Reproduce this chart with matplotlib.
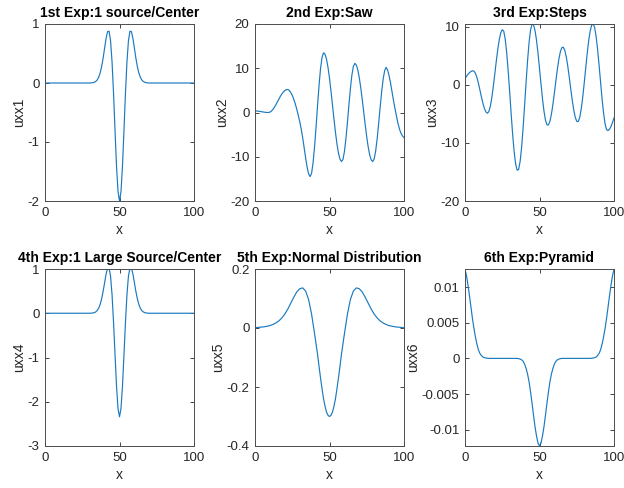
"""Second-derivative profiles uxx for six initial-condition experiments."""

import matplotlib.pyplot as plt
import numpy as np
from matplotlib.ticker import FuncFormatter

plt.rcParams["font.family"] = ["Liberation Sans", "DejaVu Sans"]

# --- experiment 1 / 4: single source at the centre ---------------------------
x_src = [0, 10, 20] + list(range(30, 71)) + [80, 90, 100]
uxx1 = [0, 0, 0,
        0.000, 0.002, 0.005, 0.012, 0.025, 0.051, 0.096, 0.169, 0.277, 0.421,
        0.590, 0.757, 0.872, 0.877, 0.716, 0.358, -0.175, -0.805, -1.407, -1.841,
        -2.000,
        -1.841, -1.407, -0.805, -0.175, 0.358, 0.716, 0.877, 0.872, 0.757, 0.590,
        0.421, 0.277, 0.169, 0.096, 0.051, 0.025, 0.012, 0.005, 0.002, 0.000,
        0, 0, 0]
uxx4 = [0, 0, 0,
        0.000, 0.002, 0.006, 0.014, 0.029, 0.060, 0.112, 0.198, 0.324, 0.493,
        0.690, 0.886, 1.020, 1.026, 0.838, 0.419, -0.205, -0.942, -1.646, -2.154,
        -2.340,
        -2.154, -1.646, -0.942, -0.205, 0.419, 0.838, 1.026, 1.020, 0.886, 0.690,
        0.493, 0.324, 0.198, 0.112, 0.060, 0.029, 0.014, 0.006, 0.002, 0.000,
        0, 0, 0]

# --- experiments 2 / 3: saw and steps -----------------------------------------
x_fine = np.arange(0, 101)
uxx2 = [0.35, 0.34, 0.31, 0.26, 0.21, 0.14, 0.09, 0.04, 0.01, 0.00,
        0.08, 0.31, 0.68, 1.17, 1.74, 2.38, 3.02, 3.63, 4.18, 4.64,
        4.97, 5.16, 5.19, 5.00, 4.50, 3.90, 3.00, 2.00, 0.80, -0.60,
        -2.00, -3.70, -5.70, -8.00, -10.30, -12.40, -13.90, -14.50, -13.70, -11.30,
        -7.60, -3.15, 1.67, 6.21, 9.99, 12.50, 13.49, 13.17, 12.04, 10.18,
        7.71, 4.82, 1.68, -1.49, -4.48, -7.09, -9.16, -10.51, -11.08, -10.65,
        -8.89, -6.00, -2.36, 1.58, 5.31, 8.39, 10.40, 11.10, 10.72, 9.61,
        7.85, 5.55, 2.87, 0.00, -2.87, -5.55, -7.85, -9.61, -10.72, -11.10,
        -10.47, -8.66, -5.88, -2.46, 1.20, 4.65, 7.53, 9.44, 10.19, 9.60,
        8.30, 6.60, 4.60, 2.60, 0.80, -0.90, -2.50, -3.80, -4.70, -5.30,
        -5.70]
uxx3 = [1.10, 1.45, 1.79, 2.07, 2.28, 2.39, 2.35, 1.97, 1.25, 0.26,
        -0.89, -2.08, -3.17, -4.07, -4.67, -4.90, -4.62, -3.70, -2.21, -0.30,
        1.86, 4.06, 6.09, 7.77, 8.93, 9.47, 9.21, 7.84, 5.46, 2.31,
        -1.33, -5.09, -8.62, -11.54, -13.66, -14.71, -14.57, -13.20, -10.73, -7.41,
        -3.55, 0.44, 4.18, 7.28, 9.43, 10.44, 10.30, 9.33, 7.64, 5.41,
        2.82, 0.14, -2.39, -4.53, -6.09, -6.90, -6.92, -6.28, -5.06, -3.38,
        -1.40, 0.69, 2.69, 4.41, 5.68, 6.38, 6.45, 5.89, 4.75, 3.16,
        1.26, -0.76, -2.70, -4.37, -5.60, -6.29, -6.34, -5.63, -4.19, -2.18,
        0.24, 2.83, 5.34, 7.55, 9.23, 10.24, 10.48, 9.83, 8.30, 6.07,
        3.35, 0.42, -2.42, -4.88, -6.72, -7.73, -7.88, -7.64, -7.17, -6.50,
        -5.70]

# --- experiment 5: normal distribution (finer sampling round the trough) ------
x_norm = list(range(0, 40, 2)) + list(range(40, 61)) + list(range(62, 101, 2))
uxx5 = [0.001, 0.002, 0.003, 0.004, 0.006, 0.008, 0.012, 0.017, 0.024, 0.034,
        0.047, 0.064, 0.084, 0.104, 0.122, 0.133, 0.136, 0.125, 0.096, 0.046,
        -0.020, -0.055, -0.090, -0.131, -0.170, -0.206, -0.240, -0.265, -0.285,
        -0.296, -0.300, -0.296, -0.285, -0.265, -0.240, -0.206, -0.170, -0.131,
        -0.090, -0.055, -0.020,
        0.046, 0.096, 0.125, 0.136, 0.133, 0.122, 0.104, 0.084, 0.064, 0.047,
        0.034, 0.024, 0.017, 0.012, 0.008, 0.006, 0.004, 0.003, 0.002, 0.001]

# --- experiment 6: pyramid ----------------------------------------------------
x_pyr = list(range(0, 17)) + [25] + list(range(34, 67)) + [75] + list(range(84, 101))
uxx6 = [0.0125, 0.0116, 0.0103, 0.0088, 0.0072, 0.0056, 0.0042, 0.0030, 0.0020,
        0.0012, 0.0007, 0.0004, 0.0002, 0.0001, 0.00005, 0.00002, 0.0,
        0.0,
        0.0, -0.00001, -0.00003, -0.0001, -0.0002, -0.0004, -0.0008, -0.0014,
        -0.0022, -0.0033, -0.0047, -0.0063, -0.0080, -0.0096, -0.0109, -0.0119,
        -0.0123,
        -0.0119, -0.0109, -0.0096, -0.0080, -0.0063, -0.0047, -0.0033, -0.0022,
        -0.0014, -0.0008, -0.0004, -0.0002, -0.0001, -0.00003, -0.00001, 0.0,
        0.0,
        0.0, 0.00002, 0.00005, 0.0001, 0.0002, 0.0004, 0.0007, 0.0012, 0.0020,
        0.0030, 0.0042, 0.0056, 0.0072, 0.0088, 0.0103, 0.0116, 0.0125]

titles = ["1st Exp:1 source/Center", "2nd Exp:Saw", "3rd Exp:Steps",
          "4th Exp:1 Large Source/Center", "5th Exp:Normal Distribution",
          "6th Exp:Pyramid"]
ylabels = ["uxx1", "uxx2", "uxx3", "uxx4", "uxx5", "uxx6"]
yticks = [[-2, -1, 0, 1], [-20, -10, 0, 10, 20], [-20, -10, 0, 10],
          [-3, -2, -1, 0, 1], [-0.4, -0.2, 0, 0.2],
          [-0.01, -0.005, 0, 0.005, 0.01]]
ylims = [(-2, 1), (-20, 20), (-20, 10.45), (-3, 1), (-0.4, 0.2),
         (-0.0123, 0.01255)]
xs = [x_src, x_fine, x_fine, x_src, x_norm, x_pyr]
ys = [uxx1, uxx2, uxx3, uxx4, uxx5, uxx6]

W, H = 624, 488
col_left = [45, 255, 465]
row_top = [24, 269]
ax_w, ax_h = 149, 177

fig = plt.figure(figsize=(W / 100, H / 100), dpi=100)
fig.patch.set_facecolor("white")

for i in range(6):
    r, c = divmod(i, 3)
    ax = fig.add_axes([col_left[c] / W, 1 - (row_top[r] + ax_h) / H,
                       ax_w / W, ax_h / H])
    ax.plot(xs[i], ys[i], color="#1a7ac0", lw=0.85)
    ax.set_xlim(0, 100)
    ax.set_ylim(*ylims[i])
    ax.set_xticks([0, 50, 100])
    ax.set_yticks(yticks[i])
    ax.yaxis.set_major_formatter(FuncFormatter(lambda v, _: f"{v:g}"))
    ax.tick_params(direction="in", length=3, width=0.6, top=True, right=True,
                   labelsize=9.5, colors="#262626", pad=4)
    for s in ax.spines.values():
        s.set_color("#4d4d4d")
        s.set_linewidth(0.7)
    ax.set_title(titles[i], fontsize=10, fontweight="bold", color="black", pad=5)
    ax.set_xlabel("x", fontsize=10, color="#262626", labelpad=3)
    ax.set_ylabel(ylabels[i], fontsize=10, color="#262626", labelpad=1)

fig.savefig("out.png", dpi=100)
